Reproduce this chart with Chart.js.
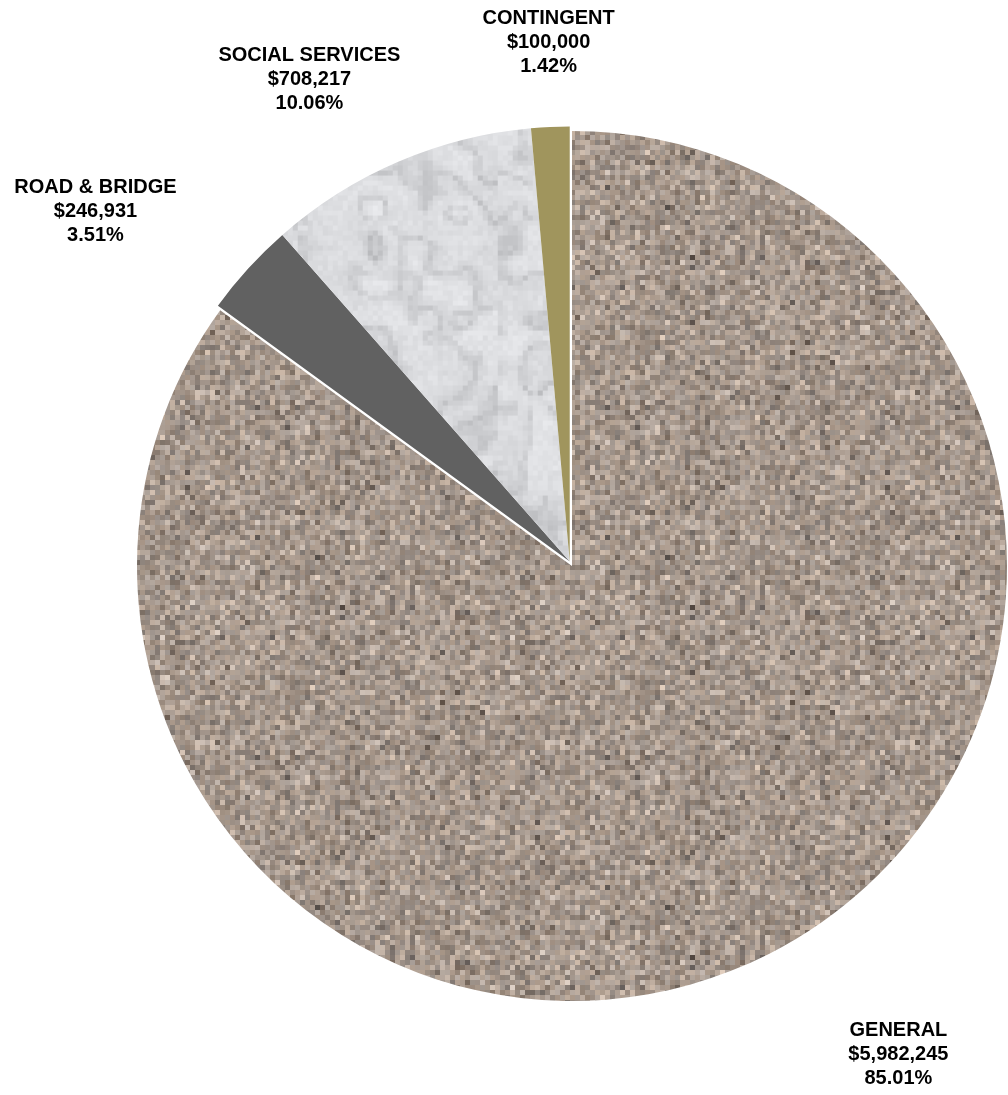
<!DOCTYPE html>
<html>
<head>
<meta charset="utf-8">
<script src="https://cdn.jsdelivr.net/npm/chart.js@4.4.1/dist/chart.umd.min.js"></script>
<style>
  body { margin: 0; background: #fff; }
  #wrap { width: 1008px; height: 1095px; }
</style>
</head>
<body>
<div id="wrap"><canvas id="pieChart" width="1008" height="1095"></canvas></div>
<script>
// fund names and budget amounts
var funds = ['GENERAL', 'ROAD & BRIDGE', 'SOCIAL SERVICES', 'CONTINGENT'];
var amounts = [5982245, 246931, 708217, 100000];

// label nudge from the slice's outer mid point (styling only)
var labelNudge = [[129, 101], [-155, -62], [-91, -87], [-4, -89]];

// seeded random, used only for the slice textures
function rng(seed) {
    return function () {
        seed |= 0; seed = seed + 0x6D2B79F5 | 0;
        var t = Math.imul(seed ^ seed >>> 15, 1 | seed);
        t = t + Math.imul(t ^ t >>> 7, 61 | t) ^ t;
        return ((t ^ t >>> 14) >>> 0) / 4294967296;
    };
}

// brown-grey speckle for GENERAL
function speckle(ctx) {
    var S = 350, B = 5;
    var c = document.createElement('canvas');
    c.width = c.height = S;
    var g = c.getContext('2d');
    var r = rng(7);
    for (var y = 0; y < S; y += B) {
        for (var x = 0; x < S; x += B) {
            var d = (r() + r() + r() - 1.5) * 42;
            if (r() < 0.04) d -= 35;
            var h = (r() - 0.5) * 8;
            g.fillStyle = 'rgb(' + Math.round(166 + d + h) + ',' + Math.round(152 + d * 0.95) + ',' + Math.round(141 + d * 0.9 - h) + ')';
            g.fillRect(x, y, B, B);
        }
    }
    return ctx.createPattern(c, 'repeat');
}

// light grey marble for SOCIAL SERVICES
function marble(ctx) {
    var S = 500, B = 5, n = S / B;
    var r = rng(21);
    function grid(size) {
        var a = [];
        for (var i = 0; i < (size + 1) * (size + 1); i++) a.push(r());
        return { size: size, a: a };
    }
    function sample(gr, u, v) {
        var s = gr.size, fx = u * s, fy = v * s;
        var x0 = Math.floor(fx), y0 = Math.floor(fy);
        var tx = fx - x0, ty = fy - y0;
        tx = tx * tx * (3 - 2 * tx); ty = ty * ty * (3 - 2 * ty);
        var i = function (x, y) { return gr.a[y * (s + 1) + x]; };
        var top = i(x0, y0) * (1 - tx) + i(x0 + 1, y0) * tx;
        var bot = i(x0, y0 + 1) * (1 - tx) + i(x0 + 1, y0 + 1) * tx;
        return top * (1 - ty) + bot * ty;
    }
    var g1 = grid(4), g2 = grid(12), g3 = grid(28);
    var c = document.createElement('canvas');
    c.width = c.height = S;
    var g = c.getContext('2d');
    for (var by = 0; by < n; by++) {
        for (var bx = 0; bx < n; bx++) {
            var u = bx / n, v = by / n;
            var nz = 0.55 * sample(g1, u, v) + 0.3 * sample(g2, u, v) + 0.15 * sample(g3, u, v);
            var vein = Math.abs(Math.sin((u * 3 - v * 2 + nz * 5) * Math.PI));
            var dark = Math.pow(1 - vein, 2) * 26;
            var val = 238 - dark - r() * 10 - sample(g2, u, v) * 12 - sample(g3, u, v) * 12;
            g.fillStyle = 'rgb(' + Math.round(val) + ',' + Math.round(val + 1) + ',' + Math.round(val + 4) + ')';
            g.fillRect(bx * B, by * B, B, B);
        }
    }
    return ctx.createPattern(c, 'repeat');
}

// small funds are pulled out of the pie together as one wedge
var explodeGroup = {
    id: 'explodeGroup',
    beforeDatasetDraw: function (chart, args) {
        var ctx = chart.ctx, arcs = args.meta.data;
        var mid = (arcs[1].startAngle + arcs[arcs.length - 1].endAngle) / 2;
        var dx = Math.cos(mid) * 5, dy = Math.sin(mid) * 5;
        arcs.forEach(function (arc, i) {
            ctx.save();
            if (i > 0) ctx.translate(dx, dy);
            arc.draw(ctx);
            ctx.restore();
        });
        return false;
    }
};

var outsideLabels = {
    id: 'outsideLabels',
    afterDatasetsDraw: function (chart) {
        var ctx = chart.ctx;
        var arcs = chart.getDatasetMeta(0).data;
        var total = amounts.reduce(function (a, b) { return a + b; }, 0);
        ctx.save();
        ctx.fillStyle = '#000';
        ctx.font = 'bold 20px "Liberation Sans", Arial, sans-serif';
        ctx.textAlign = 'center';
        ctx.textBaseline = 'middle';
        arcs.forEach(function (arc, i) {
            var mid = (arc.startAngle + arc.endAngle) / 2;
            var x = arc.x + Math.cos(mid) * arc.outerRadius + labelNudge[i][0];
            var y = arc.y + Math.sin(mid) * arc.outerRadius + labelNudge[i][1];
            ctx.fillText(funds[i], x, y - 24);
            ctx.fillText('$' + amounts[i].toLocaleString('en-US'), x, y);
            ctx.fillText((amounts[i] / total * 100).toFixed(2) + '%', x, y + 24);
        });
        ctx.restore();
    }
};

var ctx = document.getElementById('pieChart').getContext('2d');
var chart = new Chart(ctx, {
    type: 'pie',
    data: {
        labels: funds,
        datasets: [{
            data: amounts,
            backgroundColor: [speckle(ctx), '#616161', marble(ctx), '#a0955d'],
            borderWidth: 0,
            radius: 435
        }]
    },
    options: {
        responsive: false,
        animation: false,
        layout: { padding: { left: 136, right: 0, top: 130, bottom: 93 } },
        plugins: {
            legend: { display: false },
            tooltip: { enabled: false }
        }
    },
    plugins: [explodeGroup, outsideLabels]
});
</script>
</body>
</html>
